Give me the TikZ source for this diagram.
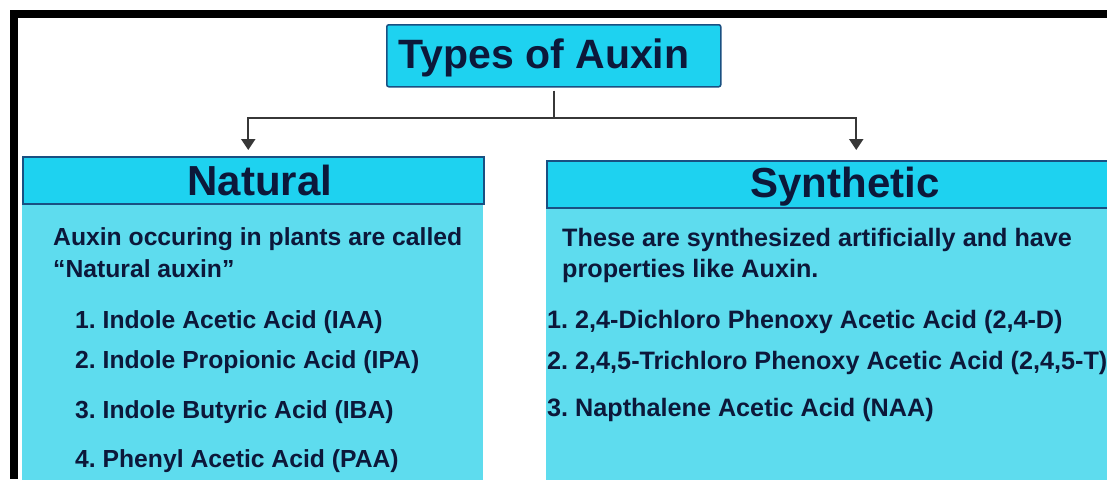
\documentclass[tikz,border=0pt]{standalone}
\usepackage{fontspec}
\setmainfont{Liberation Sans}
\usetikzlibrary{arrows.meta}
\frenchspacing
\definecolor{hdrcyan}{RGB}{30,210,240}
\definecolor{bodycyan}{RGB}{94,220,238}
\definecolor{edgeblue}{RGB}{25,80,130}
\definecolor{inknavy}{RGB}{12,24,58}
\definecolor{conngray}{RGB}{55,55,55}
\tikzset{
  titlebox/.style={draw=edgeblue, line width=1.5pt, fill=hdrcyan, rounded corners=2pt, inner sep=0pt, anchor=north west},
  hdrbox/.style={draw=edgeblue, line width=1.5pt, fill=hdrcyan, inner sep=0pt, anchor=north west},
  bodybox/.style={fill=bodycyan, inner sep=0pt, anchor=north west},
  bigtxt/.style={text=inknavy, inner sep=0pt, anchor=base, font=\fontsize{41}{48}\selectfont\bfseries},
  hdrtxt/.style={text=inknavy, inner sep=0pt, anchor=base, font=\fontsize{42}{50}\selectfont\bfseries},
  bodytxt/.style={text=inknavy, inner sep=0pt, anchor=base west, font=\fontsize{24.7}{29}\selectfont\bfseries},
  syntxt/.style={text=inknavy, inner sep=0pt, anchor=base west, font=\fontsize{25.2}{30}\selectfont\bfseries},
  conn/.style={draw=conngray, line width=2.3pt},
  arrowtip/.style={-{Triangle[width=14pt,length=11pt]}}
}
\begin{document}
\begin{tikzpicture}[x=1pt,y=-1pt]
\useasboundingbox (0,0) rectangle (1107,479);
\clip (0,0) rectangle (1107,479);
\fill[white] (0,0) rectangle (1107,479);
% black frame edges
\fill[black] (10,10) rectangle (1107,18);
\fill[black] (10,10) rectangle (18,479);

% title
\node[titlebox, minimum width=334pt, minimum height=62pt] (title) at (386,24) {};
\node[bigtxt] (titleLbl) at (544,68) {Types of Auxin};

% boxes
\node[bodybox, minimum width=461pt, minimum height=290pt] (natBody) at (22,203) {};
\node[hdrbox, minimum width=461pt, minimum height=47pt] (natHead) at (22,156) {};
\node[bodybox, minimum width=619pt, minimum height=290pt] (synBody) at (546,207) {};
\node[hdrbox, minimum width=619pt, minimum height=47pt] (synHead) at (546,160) {};

\node[hdrtxt] (natLbl) at (260,195) {Natural};
\node[hdrtxt] (synLbl) at (845,197) {Synthetic};

% connectors
\coordinate (junc) at (552,118);
\draw[conn, shorten <=3pt] (title.south) -- (title.south |- junc);
\draw[conn, arrowtip, shorten >=6pt] (junc) -| ([xshift=-5pt]natHead.north);
\draw[conn, arrowtip, shorten >=10pt] (junc) -| (synHead.north);

% natural text
\node[bodytxt] (n1) at (53,245) {Auxin occuring in plants are called};
\node[bodytxt] (n2) at (53,277) {“Natural auxin”};
\node[bodytxt] (n3) at (75,328) {1. Indole Acetic Acid (IAA)};
\node[bodytxt] (n4) at (75,368) {2. Indole Propionic Acid (IPA)};
\node[bodytxt] (n5) at (75,418) {3. Indole Butyric Acid (IBA)};
\node[bodytxt] (n6) at (75,467) {4. Phenyl Acetic Acid (PAA)};

% synthetic text
\node[syntxt] (s1) at (562,246) {These are synthesized artificially and have};
\node[syntxt] (s2) at (562,277) {properties like Auxin.};
\node[syntxt] (s3) at (547,328) {1. 2,4-Dichloro Phenoxy Acetic Acid (2,4-D)};
\node[syntxt] (s4) at (547,369) {2. 2,4,5-Trichloro Phenoxy Acetic Acid (2,4,5-T)};
\node[syntxt] (s5) at (547,416) {3. Napthalene Acetic Acid (NAA)};
\end{tikzpicture}
\end{document}
